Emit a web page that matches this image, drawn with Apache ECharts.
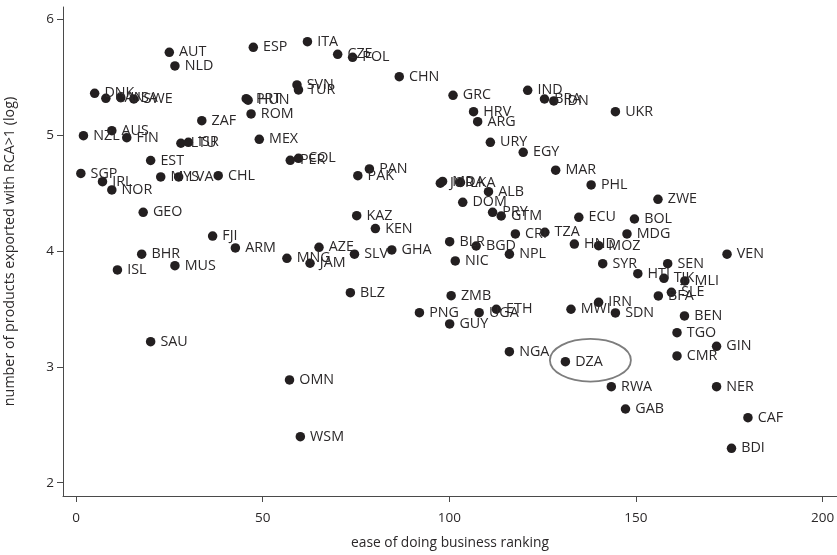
<!DOCTYPE html>
<html>
<head>
<meta charset="utf-8">
<script src="https://cdn.jsdelivr.net/npm/echarts@6.0.0/dist/echarts.min.js"></script>
<style>
  html, body { margin: 0; padding: 0; background: #ffffff; }
  #chart { width: 837px; height: 555px; }
</style>
</head>
<body>
<div id="chart"></div>
<script>
// Country codes, their ease-of-doing-business rank, and log count of products exported with RCA>1
const countries = [
  'AUT','NLD','ESP','ITA','CZE','POL','DNK','CAN','USA','SWE',
  'ZAF','ROM','PRT','HUN','SVN','TUR','CHN','GRC','IND','BRA',
  'IDN','UKR','HRV','ARG','AUS','NZL','FIN','LTU','ISR','MEX',
  'URY','EGY','EST','PER','COL','MAR','PAN','SGP','PAK','MYS',
  'LVA','CHL','IRL','NOR','JOR','MDA','LKA','ALB','PHL','DOM',
  'ZWE','GEO','PRY','GTM','KAZ','ECU','BOL','KEN','CRI','TZA',
  'MDG','FJI','BLR','HND','MOZ','BGD','ARM','AZE','GHA','BHR',
  'SLV','NPL','VEN','MNG','NIC','JAM','SYR','SEN','MUS','ISL',
  'HTI','TJK','MLI','BLZ','SLE','ZMB','BFA','IRN','ETH','MWI',
  'PNG','UGA','SDN','BEN','GUY','TGO','SAU','GIN','NGA','CMR',
  'DZA','OMN','RWA','NER','GAB','CAF','BDI','WSM'
];
const easeRanking = [
  25.0, 26.5, 47.5, 62.0, 70.1, 74.1, 5.0, 8.0, 12.0, 15.5,
  33.7, 46.9, 45.6, 46.1, 59.2, 59.6, 86.6, 101.0, 121.0, 125.5,
  128.0, 144.5, 106.5, 107.6, 9.6, 2.0, 13.6, 28.1, 30.1, 49.1,
  111.0, 119.8, 20.0, 57.4, 59.6, 128.5, 78.6, 1.3, 75.5, 22.7,
  27.5, 38.1, 7.1, 9.6, 97.6, 98.2, 103.0, 110.5, 138.0, 103.6,
  155.9, 18.0, 111.6, 113.9, 75.2, 134.7, 149.6, 80.2, 117.7, 125.6,
  147.6, 36.6, 100.1, 133.5, 140.0, 107.2, 42.7, 65.1, 84.6, 17.6,
  74.6, 116.1, 174.4, 56.5, 101.6, 62.7, 141.1, 158.5, 26.5, 11.1,
  150.5, 157.5, 163.1, 73.5, 159.5, 100.5, 156.0, 140.0, 112.6, 132.6,
  92.0, 108.0, 144.5, 163.0, 100.1, 161.0, 20.0, 171.6, 116.1, 161.0,
  131.1, 57.2, 143.4, 171.6, 147.2, 180.0, 175.6, 60.1
];
const productsLog = [
  5.715, 5.597, 5.758, 5.807, 5.698, 5.672, 5.361, 5.318, 5.323, 5.312,
  5.125, 5.183, 5.315, 5.302, 5.433, 5.390, 5.505, 5.344, 5.387, 5.312,
  5.295, 5.202, 5.202, 5.116, 5.038, 4.995, 4.978, 4.930, 4.938, 4.964,
  4.938, 4.852, 4.781, 4.783, 4.800, 4.697, 4.708, 4.669, 4.650, 4.639,
  4.639, 4.650, 4.598, 4.527, 4.585, 4.600, 4.591, 4.512, 4.570, 4.420,
  4.446, 4.334, 4.334, 4.302, 4.305, 4.291, 4.276, 4.193, 4.147, 4.161,
  4.147, 4.129, 4.080, 4.060, 4.046, 4.043, 4.026, 4.032, 4.009, 3.972,
  3.972, 3.972, 3.972, 3.937, 3.914, 3.894, 3.890, 3.890, 3.873, 3.836,
  3.804, 3.764, 3.741, 3.640, 3.643, 3.614, 3.612, 3.557, 3.497, 3.497,
  3.467, 3.467, 3.465, 3.439, 3.370, 3.295, 3.217, 3.177, 3.131, 3.094,
  3.044, 2.887, 2.829, 2.829, 2.636, 2.561, 2.297, 2.397
];
const xTicks = [0, 50, 100, 150, 200];
const yTicks = [2, 3, 4, 5, 6];
const xTitle = 'ease of doing business ranking';
const yTitle = 'number of products exported with RCA>1 (log)';
const circled = 'DZA';

const FONT = '"Open Sans", "Noto Sans", sans-serif';
const INK = '#231f20';
const TEXT = '#2b2829';
const AXIS = '#4a4a4a';
const SIZE = 14.3;

const points = countries.map((c, i) => ({ name: c, value: [easeRanking[i], productsLog[i]] }));

const chart = echarts.init(document.getElementById('chart'), null, { renderer: 'canvas' });

chart.setOption({
  animation: false,
  backgroundColor: '#ffffff',
  grid: { left: 63, right: 0, top: 7, bottom: 59, containLabel: false, outerBoundsMode: 'none' },
  xAxis: {
    type: 'value',
    min: -3.48, max: 203.86,
    splitLine: { show: false },
    axisLine: { show: true, onZero: false, lineStyle: { color: AXIS, width: 1 } },
    axisTick: { show: true, length: 6, customValues: xTicks, lineStyle: { color: AXIS, width: 1 } },
    axisLabel: { customValues: xTicks, margin: 15, color: TEXT, fontFamily: FONT, fontSize: 13.5 },
    name: xTitle,
    nameLocation: 'middle',
    nameGap: 40,
    nameTextStyle: { color: TEXT, fontFamily: FONT, fontSize: 13.8 }
  },
  yAxis: {
    type: 'value',
    min: 1.885, max: 6.106,
    splitLine: { show: false },
    axisLine: { show: true, onZero: false, lineStyle: { color: AXIS, width: 1 } },
    axisTick: { show: true, length: 6, customValues: yTicks, lineStyle: { color: AXIS, width: 1 } },
    axisLabel: { customValues: yTicks, margin: 9, color: TEXT, fontFamily: FONT, fontSize: 13.5 },
    name: yTitle,
    nameLocation: 'middle',
    nameRotate: 90,
    nameGap: 46,
    nameTextStyle: { color: TEXT, fontFamily: FONT, fontSize: 14.3 }
  },
  series: [{
    type: 'scatter',
    data: points,
    symbol: 'circle',
    symbolSize: 9.5,
    itemStyle: { color: INK, opacity: 1 },
    label: {
      show: true,
      position: 'right',
      distance: 5,
      formatter: p => p.name,
      color: TEXT,
      fontFamily: FONT,
      fontSize: SIZE
    },
    labelLayout: { hideOverlap: false },
    emphasis: { disabled: true }
  }]
});

// Ring drawn around the highlighted country
const idx = countries.indexOf(circled);
const ringCenter = [easeRanking[idx] + 6.7, productsLog[idx] + 0.013];
const c = chart.convertToPixel({ gridIndex: 0 }, ringCenter);
const edge = chart.convertToPixel({ gridIndex: 0 }, [ringCenter[0] + 10.85, ringCenter[1] + 0.184]);
chart.setOption({
  graphic: [{
    type: 'ellipse',
    shape: { cx: c[0], cy: c[1], rx: edge[0] - c[0], ry: c[1] - edge[1] },
    style: { fill: 'none', stroke: '#7d7d7d', lineWidth: 1.8 },
    z: 10
  }]
});
</script>
</body>
</html>
